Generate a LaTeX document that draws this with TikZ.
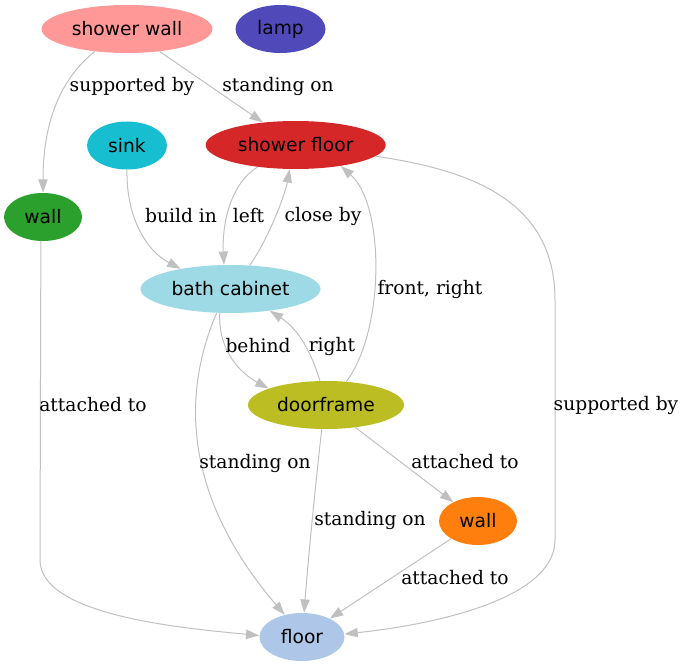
\documentclass[tikz,border=0pt]{standalone}
\usepackage{fontspec}
\usetikzlibrary{shapes.geometric,arrows.meta}
\newfontfamily\nodefnt{DejaVu Sans}
\newfontfamily\edgefnt{DejaVu Serif}
\definecolor{cSW}{HTML}{FF9896}
\definecolor{cLamp}{RGB}{80,73,185}
\definecolor{cSink}{HTML}{17BECF}
\definecolor{cSF}{HTML}{D62728}
\definecolor{cWG}{HTML}{2CA02C}
\definecolor{cBC}{HTML}{9EDAE5}
\definecolor{cDF}{HTML}{BCBD22}
\definecolor{cWO}{HTML}{FF7F0E}
\definecolor{cFl}{HTML}{AEC7E8}
\definecolor{cEdge}{HTML}{C0C0C0}
\tikzset{
  ell/.style={ellipse, draw=none, inner sep=0pt, minimum height=36pt,
    font=\nodefnt\fontsize{14pt}{16pt}\selectfont},
  lbl/.style={inner sep=0pt, font=\edgefnt\fontsize{14pt}{16pt}\selectfont},
  edge/.style={draw=cEdge, line width=0.75pt,
    -{Triangle[length=10pt,width=7pt,fill=cEdge]}}
}
\begin{document}
\begin{tikzpicture}[x=0.75pt,y=-0.75pt]
\useasboundingbox (0,0) rectangle (686,667);
% nodes
\node[ell, fill=cSW, minimum width=128.25pt] (sw) at (127,29) {shower wall};
\node[ell, fill=cLamp, minimum width=67.5pt] (lamp) at (280.5,29) {lamp};
\node[ell, fill=cSink, minimum width=60pt] (sk) at (127,145.5) {sink};
\node[ell, fill=cSF, minimum width=135pt] (sf) at (295.7,145) {shower floor};
\node[ell, fill=cWG, minimum width=58.5pt] (w) at (43,217) {wall};
\node[ell, fill=cBC, minimum width=135pt] (bc) at (230.5,289) {bath cabinet};
\node[ell, fill=cDF, minimum width=117pt] (df) at (326,405) {doorframe};
\node[ell, fill=cWO, minimum width=58.5pt] (wo) at (478,521) {wall};
\node[ell, fill=cFl, minimum width=63.75pt] (fl) at (302,637) {floor};
% edges
\draw[edge] (sw.215) .. controls (65,75) and (43,115) .. (w.90);
\draw[edge] (sw) -- (sf);
\draw[edge] (sk.270) .. controls (126,215) and (145,250) .. (bc.158);
\draw[edge] (sf.210) .. controls (228,185) and (222,230) .. (bc.105);
\draw[edge] (bc.51) .. controls (268,240) and (285,195) .. (sf.256);
\draw[edge] (df.49) .. controls (385,330) and (385,205) .. (sf.335);
\draw[edge] (sf.352) .. controls (470,170) and (555,200) .. (555,300) -- (555,540) .. controls (555,600) and (430,625) .. (fl.4);
\draw[edge] (w.265) -- (40,560) .. controls (40,615) and (180,628) .. (fl.178);
\draw[edge] (bc.246) .. controls (218,345) and (235,370) .. (df.164);
\draw[edge] (df.104) .. controls (312,355) and (300,330) .. (bc.331);
\draw[edge] (bc.240) .. controls (175,410) and (195,510) .. (fl.128);
\draw[edge] (df.260) .. controls (316,480) and (308,560) .. (fl.85);
\draw[edge] (df) -- (wo);
\draw[edge] (wo) -- (fl);
% labels
\node[lbl] (l1) at (132,86) {supported by};
\node[lbl] (l2) at (278,86) {standing on};
\node[lbl] (l3) at (181,216) {build in};
\node[lbl] (l4) at (248.5,216) {left};
\node[lbl] (l5) at (323,216) {close by};
\node[lbl] (l6) at (430,289) {front, right};
\node[lbl] (l7) at (258,346) {behind};
\node[lbl] (l8) at (332,346) {right};
\node[lbl] (l9) at (93,405) {attached to};
\node[lbl] (l10) at (616,405) {supported by};
\node[lbl] (l11) at (255,463) {standing on};
\node[lbl] (l12) at (465,462) {attached to};
\node[lbl] (l13) at (370,520) {standing on};
\node[lbl] (l14) at (455,578) {attached to};
\end{tikzpicture}
\end{document}
